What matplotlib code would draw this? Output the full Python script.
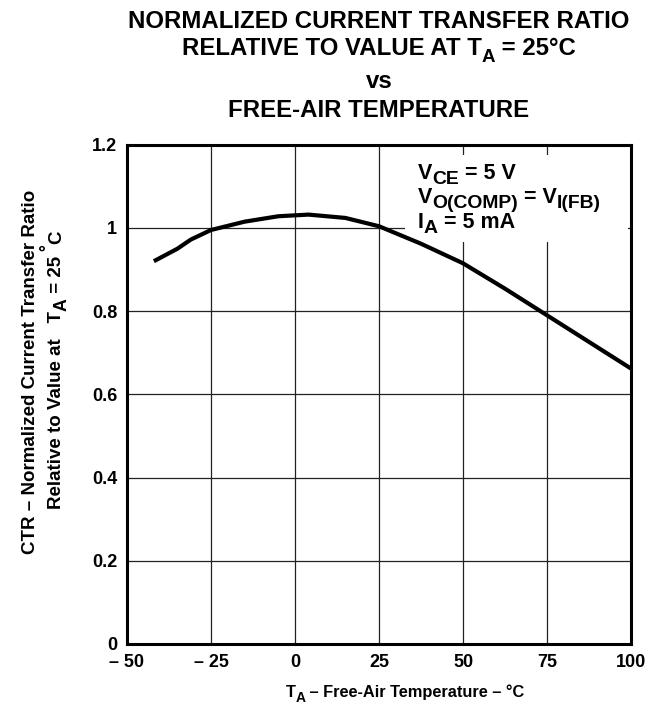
import matplotlib
matplotlib.use("Agg")
import matplotlib.pyplot as plt
from matplotlib.patches import Rectangle

plt.rcParams['font.family'] = ['Liberation Sans', 'DejaVu Sans']
plt.rcParams['font.weight'] = 'bold'

# Data
temperature = [-42, -35, -31, -25, -15, -5, 4, 15, 25, 37.5, 50, 62.5, 75, 87.5, 100]
ctr_norm = [0.920, 0.950, 0.972, 0.995, 1.015, 1.028, 1.032, 1.024, 1.004, 0.962,
            0.915, 0.854, 0.790, 0.726, 0.662]
x_ticks = [-50, -25, 0, 25, 50, 75, 100]
x_tick_labels = ['– 50', '– 25', '0', '25', '50', '75', '100']
y_ticks = [0, 0.2, 0.4, 0.6, 0.8, 1.0, 1.2]
y_tick_labels = ['0', '0.2', '0.4', '0.6', '0.8', '1', '1.2']

W, H = 659, 715
DPI = 100
fig = plt.figure(figsize=(W / DPI, H / DPI), dpi=DPI)
ax = fig.add_axes([127 / W, 1 - 644 / H, (631 - 127) / W, (644 - 144.7) / H])

ax.set_xlim(-50, 100)
ax.set_ylim(0, 1.2)
ax.set_xticks(x_ticks)
ax.set_xticklabels(x_tick_labels)
ax.set_yticks(y_ticks)
ax.set_yticklabels(y_tick_labels)
ax.tick_params(length=0, labelsize=13)
ax.tick_params(axis='x', pad=7)
ax.tick_params(axis='y', pad=7)
for lab in ax.get_xticklabels() + ax.get_yticklabels():
    lab.set_fontweight('bold')

ax.grid(True, color='#222222', linewidth=0.9)
ax.set_axisbelow(True)
for s in ax.spines.values():
    s.set_linewidth(2.2)
    s.set_zorder(5)

ax.plot(temperature, ctr_norm, color='black', linewidth=3.0, solid_capstyle='butt', zorder=4)

# white box behind the condition text (pixel extents)
ax.add_patch(Rectangle((405 / W, 1 - 242 / H), (628 - 405) / W, (242 - 155) / H,
                       transform=fig.transFigure, facecolor='white', edgecolor='none',
                       zorder=3))

renderer = fig.canvas.get_renderer()


def rich(x_px, y_px, segs, size, align='center', rot=0, sub=0.78, drop=0.28):
    """Draw text with real sub/superscripts. x_px,y_px: pixels from top-left (baseline)."""
    items = []
    for s, k in segs:
        fs = size * (sub if k in ('s', 'u') else 1.0)
        t = fig.text(0, 0, s, fontsize=fs, fontweight='bold', ha='left', va='baseline')
        w = t.get_window_extent(renderer).width
        t.remove()
        items.append((s, fs, k, w))
    total = sum(it[3] for it in items)
    pos = -total / 2 if align == 'center' else 0.0
    yb = H - y_px
    for s, fs, k, w in items:
        if k == 's':
            d = size * drop * DPI / 72
        elif k == 'u':
            d = -size * 0.42 * DPI / 72
        else:
            d = 0.0
        if rot == 0:
            px, py = x_px + pos, yb - d
        else:
            px, py = x_px + d, yb + pos
        fig.text(px / W, py / H, s, fontsize=fs, fontweight='bold', ha='left',
                 va='baseline', rotation=rot, rotation_mode='anchor', zorder=6)
        pos += w


cx = (127 + 631) / 2
TS = 17.3
rich(cx, 28, [('NORMALIZED CURRENT TRANSFER RATIO', 'n')], TS)
rich(cx, 55, [('RELATIVE TO VALUE AT T', 'n'), ('A', 's'), (' = 25°C', 'n')], TS)
rich(cx, 88, [('vs', 'n')], TS)
rich(cx, 117, [('FREE-AIR TEMPERATURE', 'n')], TS)

AS = 15.5
rich(418, 179, [('V', 'n'), ('CE', 's'), (' = 5 V', 'n')], AS, align='left', sub=0.9, drop=0.25)
rich(418, 203, [('V', 'n'), ('O(COMP)', 's'), (' = V', 'n'), ('I(FB)', 's')], AS,
     align='left', sub=0.9, drop=0.25)
rich(418, 228, [('I', 'n'), ('A', 's'), (' = 5 mA', 'n')], AS, align='left', sub=0.9, drop=0.25)

rich(405, 697, [('T', 'n'), ('A', 's'), (' – Free-Air Temperature – °C', 'n')], 11.8, sub=0.85)

rich(35, 372, [('CTR – Normalized Current Transfer Ratio', 'n')], 13.5, rot=90)
rich(61, 370, [('Relative to Value at   T', 'n'), ('A', 's'), (' = 25', 'n'),
               (' °', 'u'), ('C', 'n')], 13.5, rot=90, sub=0.95)

fig.savefig('out.png', dpi=DPI)
